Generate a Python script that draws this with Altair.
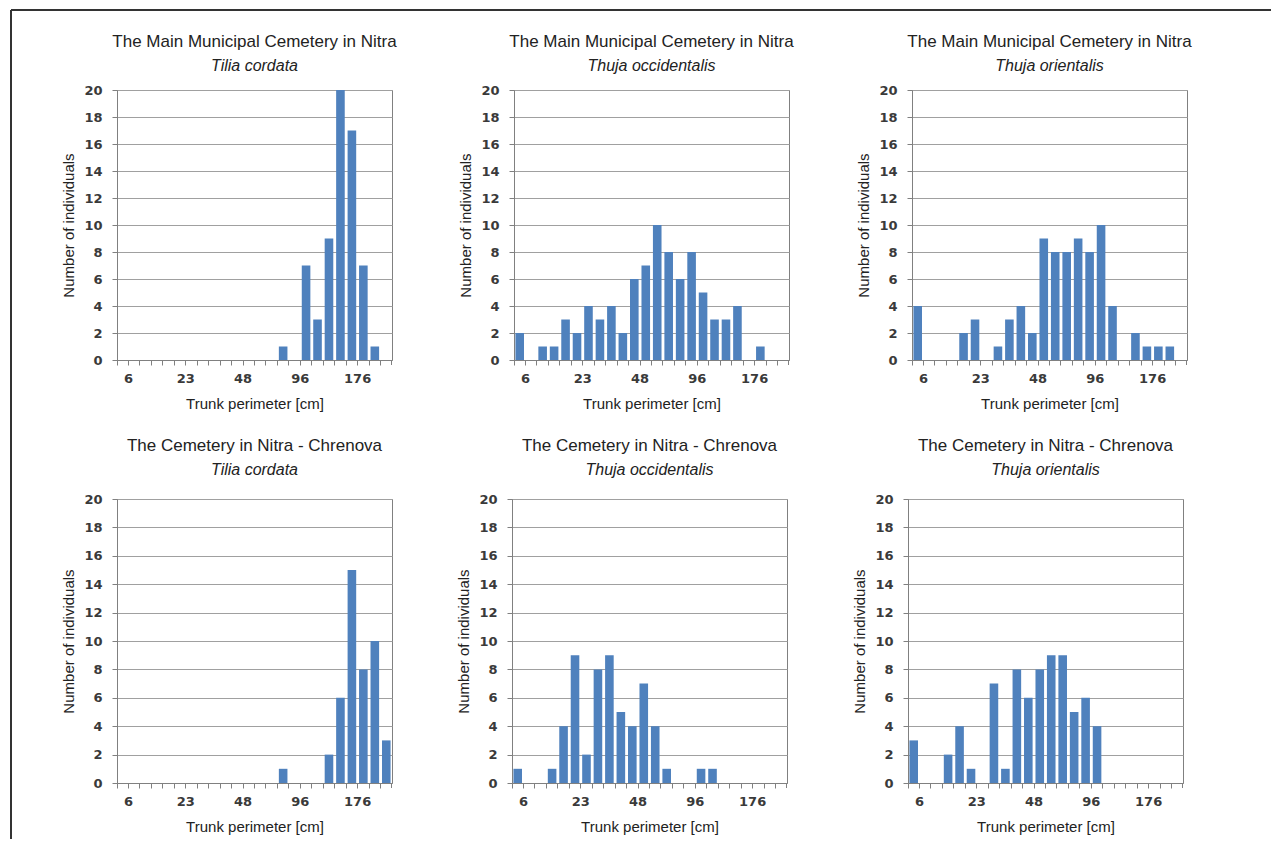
import altair as alt
import pandas as pd

# ---- data ----
bins = list(range(24))
tick_labels = ["6", "", "", "", "", "23", "", "", "", "", "48", "", "", "", "",
               "96", "", "", "", "", "176", "", "", ""]

sites = ["The Main Municipal Cemetery in Nitra"] * 3 + ["The Cemetery  in Nitra - Chrenova"] * 3
species = ["Tilia cordata", "Thuja occidentalis", "Thuja orientalis"] * 2

main_tilia = [0, 0, 0, 0, 0, 0, 0, 0, 0, 0, 0, 0, 0, 0, 1, 0, 7, 3, 9, 20, 17, 7, 1, 0]
main_occ = [2, 0, 1, 1, 3, 2, 4, 3, 4, 2, 6, 7, 10, 8, 6, 8, 5, 3, 3, 4, 0, 1, 0, 0]
main_ori = [4, 0, 0, 0, 2, 3, 0, 1, 3, 4, 2, 9, 8, 8, 9, 8, 10, 4, 0, 2, 1, 1, 1, 0]
chr_tilia = [0, 0, 0, 0, 0, 0, 0, 0, 0, 0, 0, 0, 0, 0, 1, 0, 0, 0, 2, 6, 15, 8, 10, 3]
chr_occ = [1, 0, 0, 1, 4, 9, 2, 8, 9, 5, 4, 7, 4, 1, 0, 0, 1, 1, 0, 0, 0, 0, 0, 0]
chr_ori = [3, 0, 0, 2, 4, 1, 0, 7, 1, 8, 6, 8, 9, 9, 5, 6, 4, 0, 0, 0, 0, 0, 0, 0]

series = [main_tilia, main_occ, main_ori, chr_tilia, chr_occ, chr_ori]
y_ticks = list(range(0, 21, 2))

W = 275
HEIGHTS = [270, 270, 270, 284, 284, 284]

SANS = "Liberation Sans"
label_js = "[" + ",".join("'%s'" % t for t in tick_labels) + "][datum.value]"

# frame pieces (pixel offsets relative to each panel's plot area); they also
# make the panels abut so that the figure's box outline is continuous
TOP_SEG = [(-106, 334), (-64, 335), (-64, 359)]   # horizontal extent per column
TOP_Y = [-80, -75]                                # per row
LEFT_Y = [(-80, 336), (-75, 340)]                 # left edge per row
TITLE_Y = [(-48, -24), (-53, -29)]                # title / subtitle per row


def bars(counts, h):
    df = pd.DataFrame({"bin": bins, "count": counts})
    return (
        alt.Chart(df)
        .mark_bar(color="#4F81BD", width=alt.RelativeBandSize(0.75))
        .encode(
            x=alt.X(
                "bin:O",
                scale=alt.Scale(paddingInner=0, paddingOuter=0),
                axis=alt.Axis(
                    title="Trunk perimeter  [cm]", labelExpr=label_js, labelAngle=0,
                    bandPosition=0, labelOffset=W / 48.0, labelOverlap=False,
                    grid=False, tickSize=5, tickColor="#808080", domainColor="#808080",
                    labelPadding=7, titlePadding=11,
                ),
            ),
            y=alt.Y(
                "count:Q",
                scale=alt.Scale(domain=[0, 20], nice=False),
                axis=alt.Axis(
                    title="Number of individuals", values=y_ticks, grid=True,
                    gridColor="#A0A0A0", tickSize=5, tickColor="#808080",
                    domainColor="#808080", labelPadding=10, titlePadding=7,
                ),
            ),
        )
        .properties(width=W, height=h)
    )


one = pd.DataFrame({"k": [0]})


def hrule(x0, x1, y, visible):
    return alt.Chart(one).mark_rule(
        color="#333333", strokeWidth=2, opacity=1 if visible else 0
    ).encode(x=alt.value(x0), x2=alt.value(x1), y=alt.value(y))


def vrule(x, y0, y1, color="#333333", width=2):
    return alt.Chart(one).mark_rule(color=color, strokeWidth=width).encode(
        x=alt.value(x), y=alt.value(y0), y2=alt.value(y1)
    )


def title_text(txt, y, size, style):
    return alt.Chart(one).mark_text(
        font=SANS, fontSize=size, fontStyle=style, color="#222222",
        align="center", baseline="middle",
    ).encode(x=alt.value(W / 2.0), y=alt.value(y), text=alt.value(txt))


panels = []
for i in range(6):
    row, col = divmod(i, 3)
    h = HEIGHTS[i]
    layers = [bars(series[i], h)]
    x0, x1 = TOP_SEG[col]
    layers.append(hrule(x0, x1, TOP_Y[row], row == 0))
    if col == 0:
        layers.append(vrule(-106, LEFT_Y[row][0], LEFT_Y[row][1]))
    # closing tick at the right end of the category axis
    layers.append(vrule(W - 0.5, h, h + 5, color="#808080", width=1))
    layers.append(title_text(sites[i], TITLE_Y[row][0], 17, "normal"))
    layers.append(title_text(species[i], TITLE_Y[row][1], 16, "italic"))
    panels.append(alt.layer(*layers))

row1 = alt.hconcat(*panels[:3], spacing=-5)
row2 = alt.hconcat(*panels[3:], spacing=-5)

chart = (
    alt.vconcat(row1, row2, spacing=-6)
    .properties(padding={"left": 1, "top": 0, "right": 0, "bottom": 0}, background="white")
    .configure_view(stroke="#808080", strokeWidth=1)
    .configure_axis(
        labelFont="DejaVu Sans", labelFontSize=13, labelFontWeight="bold", labelColor="#3a3a3a",
        titleFont=SANS, titleFontSize=15, titleFontWeight="normal", titleColor="#222222",
    )
)

chart.save("out.html", embed_options={"renderer": "svg", "actions": False})
